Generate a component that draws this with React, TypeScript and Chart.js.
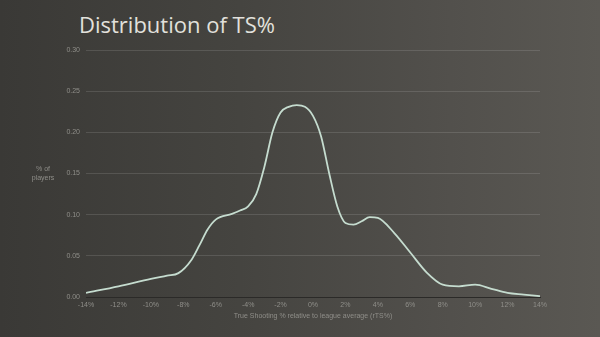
import React, { useEffect, useRef } from "react";
import { Chart, registerables } from "chart.js";

Chart.register(...registerables);

const xValues = [-14, -12, -10, -9, -8.3, -7.5, -7, -6.5, -6, -5, -4.5, -4, -3.5, -3, -2.5, -2, -1.5, -1, -0.5, 0, 0.5, 1, 1.5, 2, 2.5, 3, 3.5, 4, 5, 6, 7, 8, 9, 10, 11, 12, 13, 14];
const tsDensity = [0.005, 0.013, 0.022, 0.026, 0.029, 0.045, 0.063, 0.082, 0.094, 0.101, 0.105, 0.11, 0.125, 0.158, 0.2, 0.224, 0.231, 0.233, 0.231, 0.22, 0.195, 0.15, 0.11, 0.09, 0.088, 0.092, 0.097, 0.096, 0.078, 0.054, 0.03, 0.015, 0.013, 0.015, 0.01, 0.005, 0.003, 0.001];

const titleText = "Distribution of TS%";
const yAxisTitle = ["% of", "players"];
const xAxisTitle = "True Shooting % relative to league average (rTS%)";

export default function App() {
  const ref = useRef<HTMLCanvasElement>(null);
  useEffect(() => {
    document.body.style.margin = "0";
    const yTitlePlugin = {
      id: "yTitle",
      afterDraw(chart: any) {
        const { ctx, chartArea } = chart;
        ctx.save();
        ctx.font = "7px 'Liberation Sans', Arial, sans-serif";
        ctx.fillStyle = "#8f8e89";
        ctx.textAlign = "center";
        ctx.textBaseline = "middle";
        const cy = (chartArea.top + chartArea.bottom) / 2;
        ctx.fillText(yAxisTitle[0], 43, cy - 4);
        ctx.fillText(yAxisTitle[1], 43, cy + 5);
        ctx.restore();
      },
    };
    const chart = new Chart(ref.current!, {
      type: "line",
      data: {
        datasets: [
          {
            data: xValues.map((x, i) => ({ x, y: tsDensity[i] })),
            borderColor: "#c5dccf",
            borderWidth: 1.8,
            pointRadius: 0,
            cubicInterpolationMode: "monotone",
            fill: false,
          },
        ],
      },
      options: {
        animation: false,
        responsive: false,
        layout: { padding: { top: 50, right: 60, bottom: 0, left: 0 } },
        plugins: { legend: { display: false }, tooltip: { enabled: false } },
        scales: {
          x: {
            type: "linear",
            min: -14,
            max: 14,
            afterFit: (s: any) => { s.height = 40; },
            grid: { display: false, drawTicks: false },
            border: { display: true, color: "#2b2a28", width: 1 },
            ticks: {
              stepSize: 2,
              padding: 4,
              color: "#8f8e89",
              font: { size: 7, family: "'Liberation Sans', Arial, sans-serif" },
              callback: (v: any) => `${v}%`,
              maxRotation: 0,
              autoSkip: false,
            },
            title: {
              display: true,
              text: xAxisTitle,
              color: "#8f8e89",
              font: { size: 7, family: "'Liberation Sans', Arial, sans-serif" },
              padding: { top: 0, bottom: 17 },
            },
          },
          y: {
            min: 0,
            max: 0.3,
            afterFit: (s: any) => { s.width = 86; },
            grid: {
              drawTicks: false,
              color: (c: any) => (c.tick && c.tick.value === 0 ? "#2b2a28" : "rgba(255,255,255,0.12)"),
            },
            border: { display: false },
            ticks: {
              stepSize: 0.05,
              padding: 6,
              color: "#8f8e89",
              font: { size: 7, family: "'Liberation Sans', Arial, sans-serif" },
              callback: (v: any) => Number(v).toFixed(2),
            },
          },
        },
      },
      plugins: [yTitlePlugin],
    } as any);
    return () => chart.destroy();
  }, []);
  return (
    <div
      style={{
        position: "relative",
        width: 600,
        height: 337,
        background: "linear-gradient(to right, #3a3936 0%, #454440 40%, #52504c 75%, #5a5853 100%)",
        overflow: "hidden",
      }}
    >
      <div
        style={{
          position: "absolute",
          left: 79,
          top: 13,
          fontFamily: "'Open Sans', sans-serif",
          fontSize: 22,
          fontWeight: 500,
          lineHeight: "22px",
          color: "#e2e1dc",
          whiteSpace: "nowrap",
        }}
      >
        {titleText}
      </div>
      <canvas ref={ref} width={600} height={337} style={{ position: "absolute", left: 0, top: 0 }} />
    </div>
  );
}
